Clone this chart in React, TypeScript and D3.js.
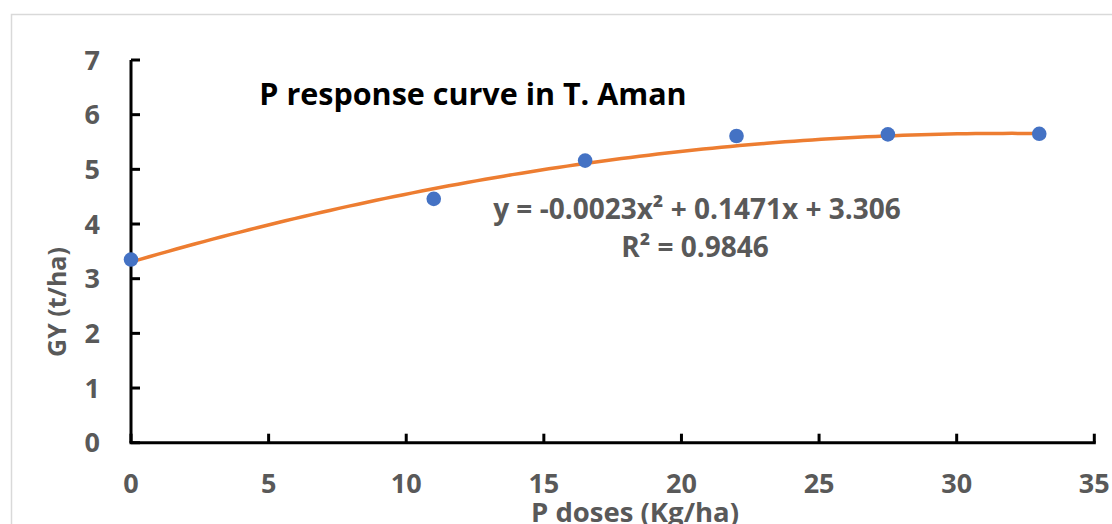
import React from "react";
import * as d3 from "d3";

const doses = [0, 11, 16.5, 22, 27.5, 33];
const yields = [3.35, 4.46, 5.16, 5.61, 5.64, 5.65];
const xTicks = [0, 5, 10, 15, 20, 25, 30, 35];
const yTicks = [0, 1, 2, 3, 4, 5, 6, 7];
// trendline coefficients: c0 + c1*x + c2*x^2
const trendCoef = [3.306, 0.1471, -0.0023];
const trendLabel = "y = -0.0023x² + 0.1471x + 3.306";
const r2Label = "R² = 0.9846";
const title = "P response curve in T. Aman";
const xTitle = "P doses (Kg/ha)";
const yTitle = "GY (t/ha)";

const W = 1112;
const H = 524;
const FONT = "'Open Sans', 'Noto Sans', sans-serif";
const GRAY = "#595959";

export default function App() {
  const x = d3.scaleLinear().domain([0, 35]).range([131, 1094.3]);
  const y = d3.scaleLinear().domain([0, 7]).range([442.7, 60]);

  const [xmin, xmax] = d3.extent(doses) as [number, number];
  const samples = d3.range(0, 101).map((i) => xmin + ((xmax - xmin) * i) / 100);
  const fit = (v: number) => trendCoef[0] + trendCoef[1] * v + trendCoef[2] * v * v;
  const line = d3
    .line<number>()
    .x((d) => x(d))
    .y((d) => y(fit(d)))
    .curve(d3.curveLinear);

  const x0 = x(0);
  const y0 = y(0);

  return (
    <svg
      width={W}
      height={H}
      style={{ position: "absolute", left: 0, top: 0, background: "#fff" }}
    >
      <rect x={0} y={0} width={W} height={H} fill="#fff" />
      {/* chart border */}
      <path d={`M11.5,${H + 5}V14.5H${W + 5}`} fill="none" stroke="#d9d9d9" strokeWidth={1.5} />

      {/* axes */}
      <line x1={x0} x2={x0} y1={y(7)} y2={y0} stroke="#000" strokeWidth={3} />
      <line x1={x0 - 1.5} x2={x(35) + 1.5} y1={y0} y2={y0} stroke="#000" strokeWidth={3} />
      {yTicks.map((t) => (
        <g key={"yt" + t}>
          <line x1={x0} x2={x0 + 9} y1={y(t)} y2={y(t)} stroke="#000" strokeWidth={3} />
          <text
            x={100}
            y={y(t) + 9.5}
            textAnchor="end"
            fontFamily={FONT}
            fontWeight={700}
            fontSize={27}
            fill={GRAY}
          >
            {t}
          </text>
        </g>
      ))}
      {xTicks.map((t) => (
        <g key={"xt" + t}>
          <line x1={x(t)} x2={x(t)} y1={y0} y2={y0 - 9} stroke="#000" strokeWidth={3} />
          <text
            x={x(t)}
            y={493}
            textAnchor="middle"
            fontFamily={FONT}
            fontWeight={700}
            fontSize={27}
            fill={GRAY}
          >
            {t}
          </text>
        </g>
      ))}

      {/* trendline */}
      <path d={line(samples) || ""} fill="none" stroke="#ED7D31" strokeWidth={3.5} />

      {/* points */}
      {doses.map((d, i) => (
        <circle key={"p" + i} cx={x(d)} cy={y(yields[i])} r={7.3} fill="#4472C4" />
      ))}

      {/* title */}
      <text
        x={473}
        y={105}
        textAnchor="middle"
        fontFamily={FONT}
        fontWeight={700}
        fontSize={30.5}
        fill="#000"
      >
        {title}
      </text>

      {/* equation */}
      <text
        x={697}
        y={219}
        textAnchor="middle"
        fontFamily={FONT}
        fontWeight={700}
        fontSize={28}
        fill={GRAY}
      >
        {trendLabel}
      </text>
      <text
        x={695}
        y={257}
        textAnchor="middle"
        fontFamily={FONT}
        fontWeight={700}
        fontSize={28}
        fill={GRAY}
      >
        {r2Label}
      </text>

      {/* axis titles */}
      <text
        x={635}
        y={522}
        textAnchor="middle"
        fontFamily={FONT}
        fontWeight={700}
        fontSize={27.5}
        fill={GRAY}
      >
        {xTitle}
      </text>
      <text
        transform={`translate(66,302) rotate(-90)`}
        textAnchor="middle"
        fontFamily={FONT}
        fontWeight={700}
        fontSize={25}
        fill={GRAY}
      >
        {yTitle}
      </text>
    </svg>
  );
}
